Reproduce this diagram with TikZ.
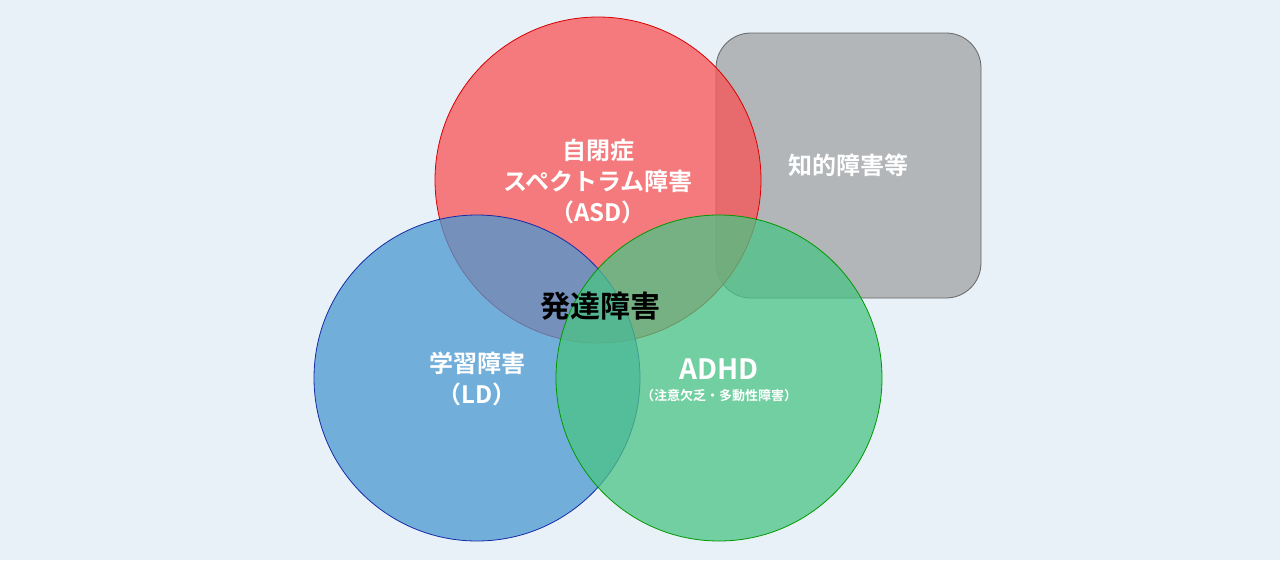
\documentclass[tikz,border=0pt]{standalone}
\usepackage{fontspec}
\newfontfamily\jp{Noto Sans CJK JP Bold}
\definecolor{bg}{RGB}{232,240,248}
\definecolor{cred}{RGB}{249,83,84}
\definecolor{cblue}{RGB}{75,152,209}
\definecolor{cgreen}{RGB}{75,196,133}
\definecolor{cgray}{RGB}{160,163,165}
\begin{document}
\begin{tikzpicture}[x=1pt,y=-1pt,
  ring/.style={circle,minimum size=326pt,inner sep=0pt,line width=0.8pt,fill opacity=0.75},
  lbl/.style={text=white,font=\jp\fontsize{24}{31}\selectfont,align=center}]
\fill[bg] (0,0) rectangle (1280,560);
\useasboundingbox (0,0) rectangle (1280,560);
\node[draw=gray!80!black,fill=cgray,fill opacity=0.75,rounded corners=35pt,minimum width=265pt,minimum height=265pt,line width=0.8pt] (iq) at (848.5,165.5) {};
\node[ring,draw=red!85!black,fill=cred] (asd) at (598,180) {};
\node[ring,draw=blue!60!cblue!70!black,fill=cblue] (ld) at (477,378) {};
\node[ring,draw=green!60!black,fill=cgreen] (adhd) at (719,378) {};
\node[lbl] (t1) at (598,181) {自閉症\\スペクトラム障害\\（ASD）};
\node[lbl] (t2) at (848,165) {知的障害等};
\node[lbl] (t3) at (477,379) {学習障害\\（LD）};
\node[text=white,font=\jp\fontsize{28}{30}\selectfont] (t4) at (719,369) {ADHD};
\node[text=white,font=\jp\fontsize{13}{15}\selectfont] (t5) at (719,396) {（注意欠乏・多動性障害）};
\node[text=black,font=\jp\fontsize{30}{34}\selectfont] (t6) at (600,306) {発達障害};
\end{tikzpicture}
\end{document}
